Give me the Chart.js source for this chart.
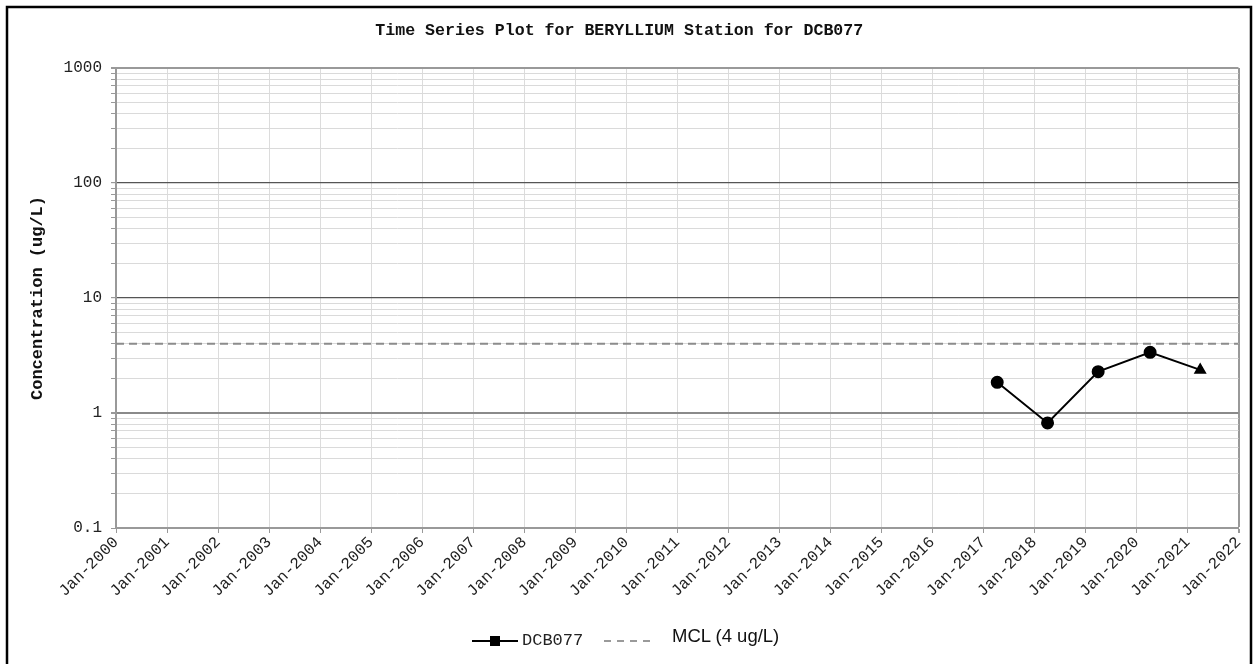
<!DOCTYPE html>
<html>
<head>
<meta charset="utf-8">
<script src="https://cdn.jsdelivr.net/npm/chart.js@4.4.1/dist/chart.umd.min.js"></script>
<style>
  html, body { margin: 0; padding: 0; background: #fff; }
  #wrap { position: relative; width: 1255px; height: 664px; overflow: hidden; }
  #c { position: absolute; left: 0; top: 0; }
  .lg { position: absolute; }
  .txt { position: absolute; white-space: nowrap; height: 22px; line-height: 22px; }
</style>
</head>
<body>
<div id="wrap">
  <canvas id="c" width="1255" height="664"></canvas>
  <div class="lg" style="left:472px;top:640px;width:46px;height:2px;background:#000;"></div>
  <div class="lg" style="left:490px;top:636px;width:10px;height:10px;background:#000;"></div>
  <div class="txt" style="left:522px;top:630px;font-family:'Liberation Mono',monospace;font-size:17px;color:#222;">DCB077</div>
  <div class="lg" style="left:604px;top:640px;width:46px;height:2px;background:repeating-linear-gradient(to right,#9a9a9a 0 7px,transparent 7px 13px);"></div>
  <div class="txt" style="left:672px;top:625px;font-family:'Liberation Sans',Arial,sans-serif;font-size:18.5px;color:#111;">MCL (4 ug/L)</div>
</div>
<script>
// ---- data ----
const chartTitle = 'Time Series Plot for BERYLLIUM Station for DCB077';
const yAxisTitle = 'Concentration (ug/L)';
const seriesName = 'DCB077';
const sampleDates = ['2017-04-10', '2018-04-05', '2019-04-02', '2020-04-08', '2021-04-02'];
const sampleValues = [1.85, 0.82, 2.29, 3.37, 2.37];
const samplePointStyles = ['circle', 'circle', 'circle', 'circle', 'triangle'];
const mclValue = 4;
const mclLabel = 'MCL (4 ug/L)';
const xStartYear = 2000;
const xEndYear = 2022;
const yMin = 0.1;
const yMax = 1000;
const yLabelTicks = [0.1, 1, 10, 100, 1000];
const yMinorMultipliers = [1, 2, 3, 4, 5, 6, 7, 8, 9];
const monthPrefix = 'Jan-';

function decimalYear(iso) {
  const [y, m, d] = iso.split('-').map(Number);
  const start = Date.UTC(y, 0, 1);
  const end = Date.UTC(y + 1, 0, 1);
  return y + (Date.UTC(y, m - 1, d) - start) / (end - start);
}

const seriesPoints = sampleDates.map((d, i) => ({ x: decimalYear(d), y: sampleValues[i] }));
const mclPoints = [{ x: xStartYear, y: mclValue }, { x: xEndYear, y: mclValue }];

function near(a, b) { return Math.abs(a - b) < 1e-9 * Math.max(1, Math.abs(b)); }

const framePlugin = {
  id: 'frame',
  beforeDraw(chart) {
    const ctx = chart.ctx;
    ctx.save();
    ctx.fillStyle = '#fff';
    ctx.fillRect(0, 0, chart.width, chart.height);
    ctx.strokeStyle = '#000';
    ctx.lineWidth = 2.5;
    ctx.beginPath();
    ctx.moveTo(7, 670);
    ctx.lineTo(7, 7);
    ctx.lineTo(1251, 7);
    ctx.lineTo(1251, 670);
    ctx.stroke();
    ctx.restore();
  }
};

const mono = "'Liberation Mono', 'Courier New', monospace";

new Chart(document.getElementById('c'), {
  type: 'line',
  data: {
    datasets: [
      {
        label: seriesName,
        data: seriesPoints,
        borderColor: '#000',
        backgroundColor: '#000',
        borderWidth: 2,
        pointStyle: samplePointStyles,
        pointRadius: 5.5,
        pointBackgroundColor: '#000',
        pointBorderColor: '#000',
        tension: 0,
        order: 0
      },
      {
        label: mclLabel,
        data: mclPoints,
        borderColor: '#8c8c8c',
        borderWidth: 2,
        borderDash: [8, 5],
        pointRadius: 0,
        tension: 0,
        order: 1
      }
    ]
  },
  options: {
    responsive: false,
    animation: false,
    devicePixelRatio: 1,
    layout: { padding: { left: 0, right: 16.5, top: 0, bottom: 0 } },
    plugins: {
      legend: { display: false },
      tooltip: { enabled: false },
      title: {
        display: true,
        text: chartTitle,
        color: '#111',
        font: { family: mono, size: 16.6, weight: 'bold', lineHeight: 1.2 },
        padding: { top: 21, bottom: 27.1 }
      }
    },
    scales: {
      x: {
        type: 'linear',
        min: xStartYear,
        max: xEndYear,
        afterFit(s) { s.height = 136; },
        ticks: {
          stepSize: 1,
          autoSkip: false,
          minRotation: 45,
          maxRotation: 45,
          padding: 0,
          color: '#222',
          font: { family: mono, size: 16 },
          callback: (v) => monthPrefix + Math.round(v)
        },
        grid: {
          color: (c) => (c.tick && c.tick.value === xEndYear) ? '#999' : '#dcdcdc',
          lineWidth: (c) => (c.tick && c.tick.value === xEndYear) ? 2 : 1,
          tickColor: '#999',
          tickLength: 5,
          drawTicks: true
        },
        border: { display: true, color: '#999', width: 2 }
      },
      y: {
        type: 'logarithmic',
        min: yMin,
        max: yMax,
        afterFit(s) { s.width = 116; },
        afterBuildTicks(s) {
          const ticks = [];
          for (let e = Math.round(Math.log10(yMin)); e < Math.round(Math.log10(yMax)); e++) {
            yMinorMultipliers.forEach((m) => ticks.push({ value: parseFloat((m * Math.pow(10, e)).toPrecision(6)) }));
          }
          ticks.push({ value: yMax });
          s.ticks = ticks;
        },
        title: {
          display: true,
          text: yAxisTitle,
          color: '#111',
          font: { family: mono, size: 17, weight: 'bold', lineHeight: 1.2 },
          padding: { top: 28, bottom: 0 }
        },
        ticks: {
          autoSkip: false,
          padding: 9,
          color: '#222',
          font: { family: mono, size: 16 },
          callback: (v) => {
            const hit = yLabelTicks.find((t) => near(v, t));
            return hit !== undefined ? String(hit) : '';
          }
        },
        grid: {
          color: (c) => {
            const v = c.tick ? c.tick.value : 0;
            if (near(v, 100) || near(v, 10)) return '#555';
            if (near(v, 1)) return '#8a8a8a';
            if (near(v, 1000)) return '#999';
            return '#dadada';
          },
          lineWidth: (c) => {
            const v = c.tick ? c.tick.value : 0;
            if (near(v, 1)) return 2;
            if (near(v, 1000)) return 2;
            if (near(v, 100) || near(v, 10)) return 1.2;
            return 1;
          },
          tickColor: '#999',
          tickLength: 5
        },
        border: { display: true, color: '#999', width: 2 }
      }
    }
  },
  plugins: [framePlugin]
});
</script>
</body>
</html>
